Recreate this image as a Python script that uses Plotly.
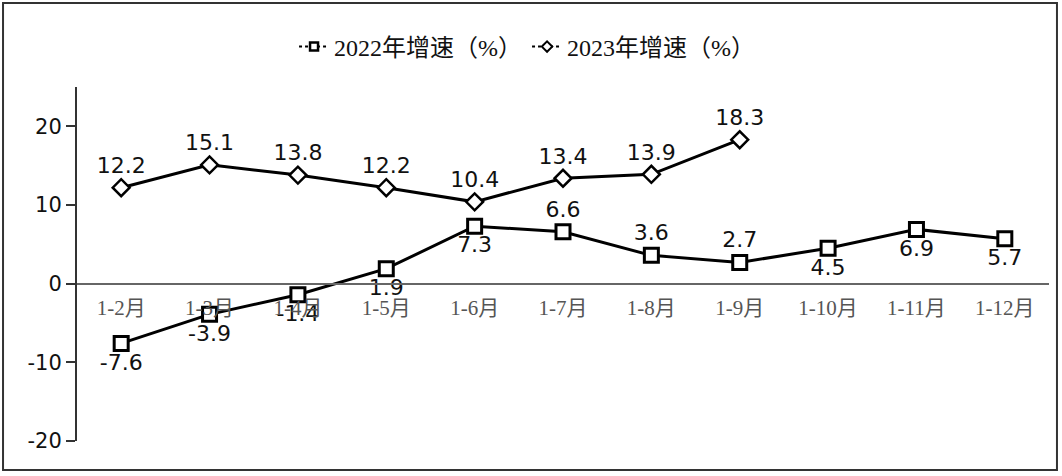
import plotly.graph_objects as go

months = ["1-2月", "1-3月", "1-4月", "1-5月", "1-6月", "1-7月",
          "1-8月", "1-9月", "1-10月", "1-11月", "1-12月"]
growth_2022 = [-7.6, -3.9, -1.4, 1.9, 7.3, 6.6, 3.6, 2.7, 4.5, 6.9, 5.7]
growth_2023 = [12.2, 15.1, 13.8, 12.2, 10.4, 13.4, 13.9, 18.3]
y_ticks = [-20, -10, 0, 10, 20]
y_tick_text = ["-20", "-10", "0", "10", "20"]

# label placement for the 2022 series (some sit above, most below)
pos_2022 = ["bottom center"] * 5 + ["top center"] * 3 + ["bottom center"] * 3

label_font = dict(family="DejaVu Sans", size=22, color="#111")
serif_cjk = "Liberation Serif, Noto Sans CJK SC"

fig = go.Figure()

fig.add_trace(
    go.Scatter(
        x=months,
        y=growth_2022,
        mode="lines+markers+text",
        text=[f"{v:.1f}" for v in growth_2022],
        textposition=pos_2022,
        textfont=label_font,
        line=dict(color="black", width=3),
        marker=dict(symbol="square", size=14, color="white",
                    line=dict(color="black", width=3)),
        cliponaxis=False,
        showlegend=False,
    )
)

fig.add_trace(
    go.Scatter(
        x=months[: len(growth_2023)],
        y=growth_2023,
        mode="lines+markers+text",
        text=[f"{v:.1f}" for v in growth_2023],
        textposition="top center",
        textfont=label_font,
        line=dict(color="black", width=3),
        marker=dict(symbol="diamond", size=13, color="white",
                    line=dict(color="black", width=2.5)),
        cliponaxis=False,
        showlegend=False,
    )
)

# small legend-only entries, like the compact icons in the original
fig.add_trace(
    go.Scatter(
        x=[None], y=[None], mode="lines+markers", name="2022年增速（%）",
        line=dict(color="black", width=2, dash="dot"),
        marker=dict(symbol="square", size=8, color="white",
                    line=dict(color="black", width=2.5)),
    )
)
fig.add_trace(
    go.Scatter(
        x=[None], y=[None], mode="lines+markers", name="2023年增速（%）",
        line=dict(color="black", width=2, dash="dot"),
        marker=dict(symbol="diamond", size=8, color="white",
                    line=dict(color="black", width=2)),
    )
)

fig.update_layout(
    width=1062,
    height=476,
    margin=dict(l=77, r=13, t=87, b=35),
    paper_bgcolor="white",
    plot_bgcolor="white",
    showlegend=True,
    legend=dict(
        orientation="h",
        x=0.463,
        xanchor="center",
        y=1.113,
        yanchor="middle",
        font=dict(family=serif_cjk, size=24, color="#111"),
        itemwidth=30,
    ),
    # outer frame around the whole picture
    shapes=[
        dict(type="rect", xref="paper", yref="paper",
             x0=-0.0761, x1=1.0082, y0=-0.0819, y1=1.2373,
             line=dict(color="#333", width=2), fillcolor="rgba(0,0,0,0)"),
    ],
)

# x axis sits on the zero line
fig.update_xaxes(
    anchor="free",
    position=20 / 45,
    range=[-0.5, len(months) - 0.5],
    showline=True,
    linecolor="#666",
    linewidth=2,
    showgrid=False,
    ticks="outside",
    ticklen=5,
    tickcolor="rgba(0,0,0,0)",
    tickfont=dict(family=serif_cjk, size=21, color="#555"),
)

fig.update_yaxes(
    range=[-20, 25],
    tickvals=y_ticks,
    ticktext=y_tick_text,
    showline=True,
    linecolor="#333",
    linewidth=2,
    ticks="outside",
    ticklen=9,
    tickcolor="#333",
    tickwidth=1.5,
    showgrid=False,
    zeroline=False,
    tickfont=dict(family="DejaVu Sans", size=21, color="#111"),
)

# the page body has a default margin; drop it so the frame sits at the edge
fig.write_html(
    "out.html",
    config={"displayModeBar": False},
    post_script="document.body.style.margin='0';",
)
